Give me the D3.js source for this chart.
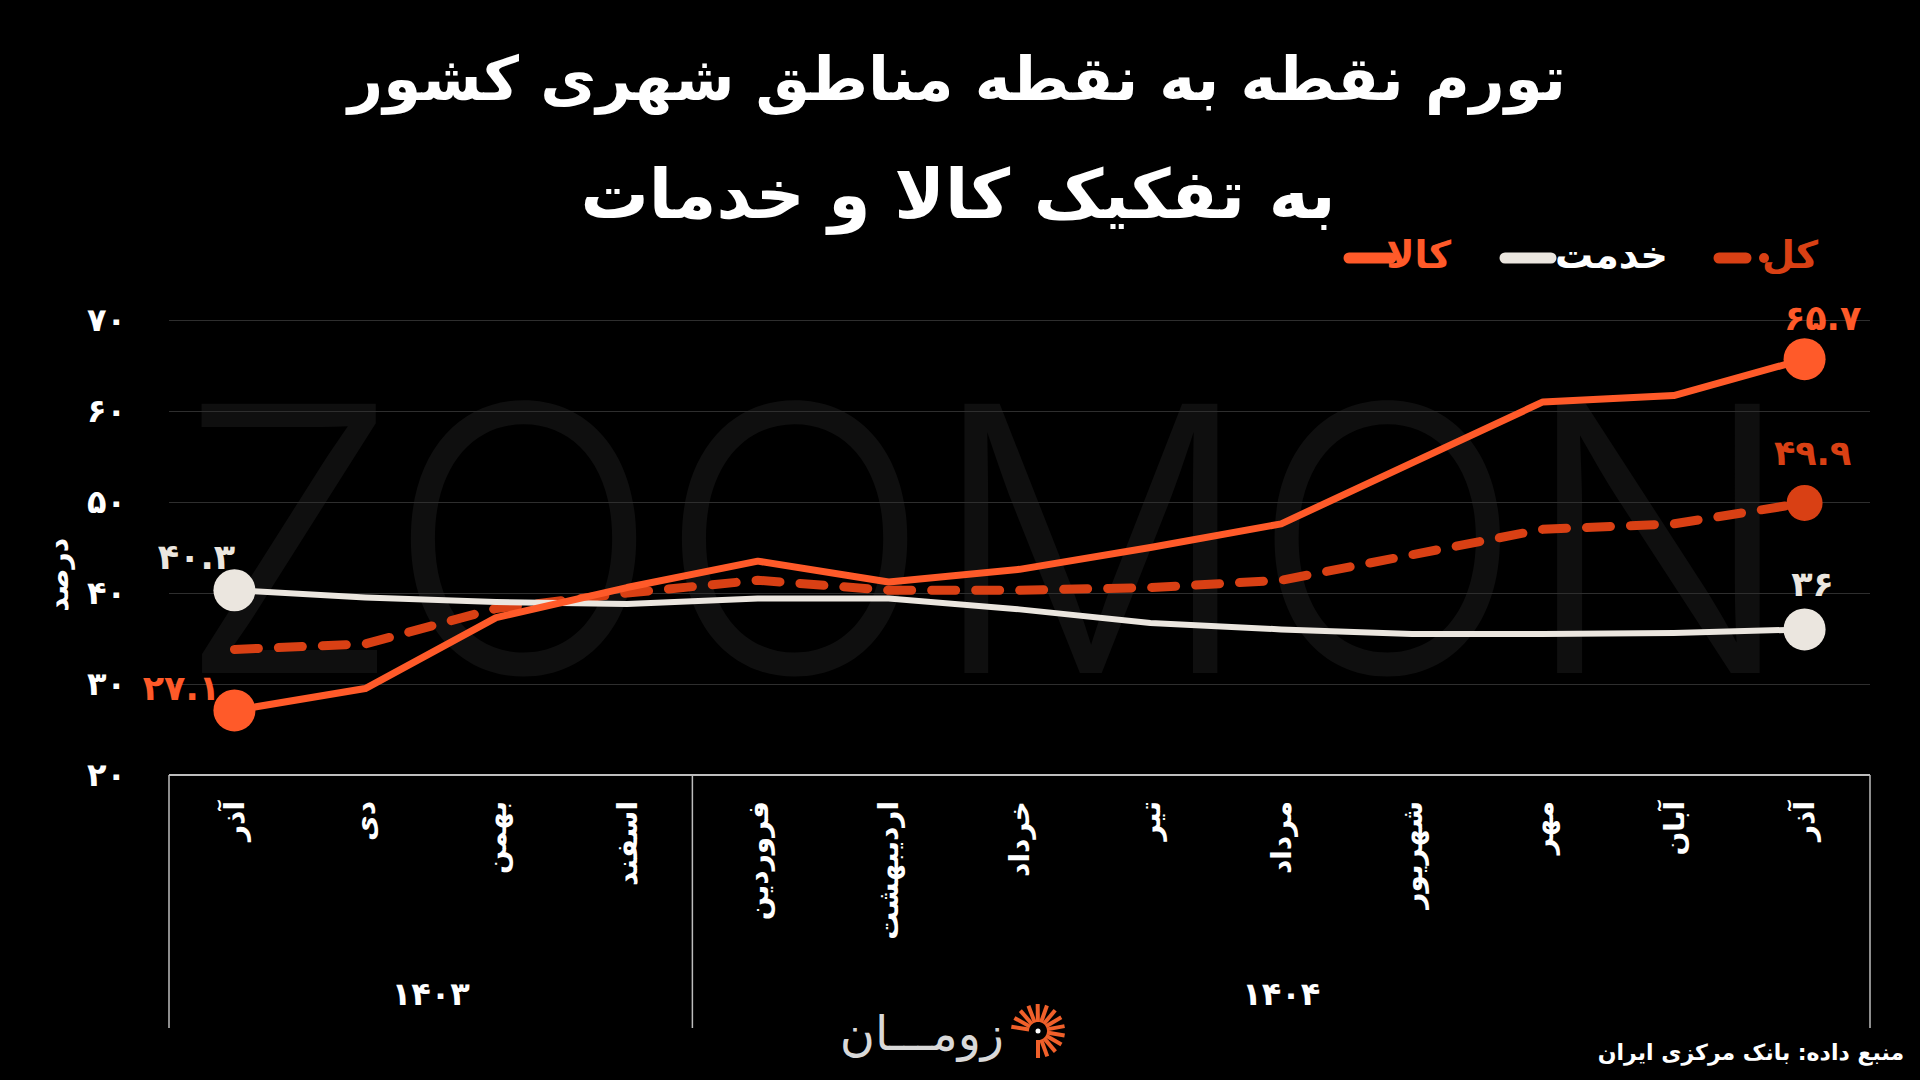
<!DOCTYPE html>
<html>
<head>
<meta charset="utf-8">
<script src="https://cdn.jsdelivr.net/npm/d3@7"></script>
<style>
body{margin:0;background:#000;}
svg text{font-family:"DejaVu Sans",sans-serif;}
</style>
</head>
<body>
<svg id="chart"></svg>
<script>
// داده ها
var months=["آذر","دی","بهمن","اسفند","فروردین","اردیبهشت","خرداد","تیر","مرداد","شهریور","مهر","آبان","آذر"]
var years=[{name:"1403",count:4},{name:"1404",count:9}]
var goods=[27.1,29.5,37.3,40.6,43.5,41.2,42.6,45.0,47.6,54.3,61.0,61.7,65.7]
var services=[40.3,39.5,39.0,38.8,39.4,39.4,38.2,36.7,36.0,35.5,35.5,35.6,36]
var total=[33.8,34.4,38.3,40.0,41.4,40.3,40.3,40.6,41.4,44.2,47.0,47.6,49.9]
var yTicks=[20,30,40,50,60,70]

var colors={goods:"#ff5a29",services:"#ebe6df",total:"#d94014"}

var fa=function(s){return String(s).replace(/\d/g,function(d){return "۰۱۲۳۴۵۶۷۸۹"[d]})}

var screen={width:1920,height:1080}
var margins={left:169,right:50,top:320,bottom:305}
var graph={width:screen.width-margins.left-margins.right,height:screen.height-margins.top-margins.bottom}

var svg=d3.select("#chart").attr("width",screen.width).attr("height",screen.height)
svg.append("rect").attr("width",screen.width).attr("height",screen.height).attr("fill","#000")

// واترمارک
svg.append("path")
    .attr("d","M0,0")
svg.append("text")
    .text("ZOOMON")
    .attr("x",178).attr("y",673)
    .attr("textLength",1616).attr("lengthAdjust","spacingAndGlyphs")
    .style("font-family","Inter,sans-serif").style("font-weight",300)
    .style("font-size","370px").attr("fill","#0f0f0f")

// عنوان
var title=svg.append("g")
title.append("text").text("تورم نقطه به نقطه مناطق شهری کشور")
    .attr("x",957).attr("y",100).attr("text-anchor","middle")
    .attr("fill","#fff").style("font-size","61px").style("font-weight","bold")
title.append("text").text("به تفکیک کالا و خدمات")
    .attr("x",958).attr("y",218).attr("text-anchor","middle")
    .attr("fill","#fff").style("font-size","68px").style("font-weight","bold")

var target=svg.append("g").attr("transform","translate("+margins.left+","+margins.top+")")

var xScale=d3.scaleBand().domain(d3.range(months.length)).range([0,graph.width])
var yScale=d3.scaleLinear().domain([20,70]).range([graph.height,0])
var cx=function(i){return xScale(i)+xScale.bandwidth()/2}

// خطوط شبکه
var grid=target.append("g")
    .call(d3.axisLeft(yScale).tickValues(yTicks.slice(1)).tickSize(-graph.width).tickFormat(""))
grid.select(".domain").remove()
grid.selectAll("line").attr("stroke","#2e2e2e").attr("stroke-width",1)

// محور عمودی
var yAxis=target.append("g")
    .call(d3.axisLeft(yScale).tickValues(yTicks).tickSize(0).tickPadding(43).tickFormat(fa))
yAxis.select(".domain").remove()
yAxis.selectAll("text").attr("fill","#fff").style("font-size","32px").style("font-weight","bold")
    .style("font-family","DejaVu Sans")

svg.append("text").text("درصد")
    .attr("transform","translate(58,"+(margins.top+yScale(42))+") rotate(-90)")
    .attr("text-anchor","middle").attr("dy","0.35em")
    .attr("fill","#fff").style("font-size","28px").style("font-weight","bold")

// محور افقی
var xAxis=target.append("g").attr("transform","translate(0,"+graph.height+")")
    .call(d3.axisBottom(xScale).tickSize(0).tickFormat(function(i){return months[i]}))
xAxis.select(".domain").remove()
xAxis.selectAll("text")
    .attr("transform","rotate(-90)")
    .attr("x",-26).attr("y",0).attr("dy","0.35em")
    .attr("text-anchor","end")
    .attr("fill","#fff").style("font-size","28px").style("font-weight","bold")

target.append("line").attr("x1",0).attr("x2",graph.width)
    .attr("y1",graph.height).attr("y2",graph.height)
    .attr("stroke","#bdbdbd").attr("stroke-width",2)

var bounds=[0]
years.forEach(function(y){bounds.push(bounds[bounds.length-1]+y.count)})
target.selectAll(".sep").data(bounds).enter().append("line")
    .attr("x1",function(b){return b<months.length?xScale(b):graph.width})
    .attr("x2",function(b){return b<months.length?xScale(b):graph.width})
    .attr("y1",graph.height).attr("y2",graph.height+253)
    .attr("stroke","#bdbdbd").attr("stroke-width",1.5)

target.selectAll(".year").data(years).enter().append("text")
    .text(function(y){return fa(y.name)})
    .attr("x",function(y,i){return (xScale(bounds[i])+(bounds[i+1]<months.length?xScale(bounds[i+1]):graph.width))/2})
    .attr("y",graph.height+230)
    .attr("text-anchor","middle").attr("fill","#fff")
    .style("font-size","32px").style("font-weight","bold")

// خطوط
var line=d3.line().x(function(d,i){return cx(i)}).y(function(d){return yScale(d)})

target.append("path").datum(total).attr("d",line).attr("fill","none")
    .attr("stroke",colors.total).attr("stroke-width",9)
    .attr("stroke-dasharray","24,20").attr("stroke-linecap","round")
target.append("path").datum(services).attr("d",line).attr("fill","none")
    .attr("stroke",colors.services).attr("stroke-width",6).attr("stroke-linejoin","round")
target.append("path").datum(goods).attr("d",line).attr("fill","none")
    .attr("stroke",colors.goods).attr("stroke-width",7).attr("stroke-linejoin","round")

// نقاط ابتدا و انتها
var last=months.length-1
var dots=[
    {v:services[0],i:0,c:colors.services,r:21},
    {v:services[last],i:last,c:colors.services,r:21},
    {v:goods[0],i:0,c:colors.goods,r:21},
    {v:goods[last],i:last,c:colors.goods,r:21},
    {v:total[last],i:last,c:colors.total,r:18}
]
target.selectAll(".dot").data(dots).enter().append("circle")
    .attr("cx",function(d){return cx(d.i)}).attr("cy",function(d){return yScale(d.v)})
    .attr("r",function(d){return d.r}).attr("fill",function(d){return d.c})

// برچسب مقادیر
var labels=[
    {v:goods[last],i:last,c:colors.goods,dx:18,dy:-29},
    {v:total[last],i:last,c:colors.total,dx:8,dy:-38},
    {v:services[last],i:last,c:colors.services,dx:8,dy:-33},
    {v:services[0],i:0,c:colors.services,dx:-38,dy:-21},
    {v:goods[0],i:0,c:colors.goods,dx:-53,dy:-10}
]
target.selectAll(".lbl").data(labels).enter().append("text")
    .text(function(d){return fa(d.v)})
    .attr("x",function(d){return cx(d.i)+d.dx})
    .attr("y",function(d){return yScale(d.v)+d.dy})
    .attr("text-anchor","middle").attr("fill",function(d){return d.c})
    .style("font-size","35px").style("font-weight","bold")

// راهنما
var legend=svg.append("g")
legend.append("line").attr("x1",1349).attr("x2",1391).attr("y1",258).attr("y2",258)
    .attr("stroke",colors.goods).attr("stroke-width",11).attr("stroke-linecap","round")
legend.append("text").text("کالا").attr("x",1451).attr("y",268).attr("text-anchor","end")
    .attr("fill",colors.goods).style("font-size","38px").style("font-weight","bold")
legend.append("line").attr("x1",1505).attr("x2",1551).attr("y1",258).attr("y2",258)
    .attr("stroke",colors.services).attr("stroke-width",11).attr("stroke-linecap","round")
legend.append("text").text("خدمت").attr("x",1668).attr("y",268).attr("text-anchor","end")
    .attr("fill","#fff").style("font-size","38px").style("font-weight","bold")
legend.append("line").attr("x1",1719).attr("x2",1746).attr("y1",258).attr("y2",258)
    .attr("stroke",colors.total).attr("stroke-width",11).attr("stroke-linecap","round")
legend.append("circle").attr("cx",1764).attr("cy",258).attr("r",5).attr("fill",colors.total)
legend.append("text").text("کل").attr("x",1818).attr("y",268).attr("text-anchor","end")
    .attr("fill",colors.total).style("font-size","38px").style("font-weight","bold")

// لوگو
var logo=svg.append("g").attr("transform","translate(1038,1031)")
logo.selectAll("line").data(d3.range(14)).enter().append("line")
    .attr("x1",function(k){var a=-Math.PI*0.95+k*Math.PI*1.45/13;return Math.cos(a)*9})
    .attr("y1",function(k){var a=-Math.PI*0.95+k*Math.PI*1.45/13;return Math.sin(a)*9})
    .attr("x2",function(k){var a=-Math.PI*0.95+k*Math.PI*1.45/13;return Math.cos(a)*27})
    .attr("y2",function(k){var a=-Math.PI*0.95+k*Math.PI*1.45/13;return Math.sin(a)*27})
    .attr("stroke","#f0602a").attr("stroke-width",4)
logo.append("circle").attr("r",2.5).attr("fill","#fff")
svg.append("text").text("زومـــان").attr("x",1004).attr("y",1050).attr("text-anchor","end")
    .attr("fill","#d9d9d9").style("font-size","48px")

svg.append("text").text("منبع داده: بانک مرکزی ایران")
    .attr("x",1904).attr("y",1060).attr("text-anchor","end")
    .attr("fill","#fff").style("font-size","22px").style("font-weight","bold")
</script>
</body>
</html>
